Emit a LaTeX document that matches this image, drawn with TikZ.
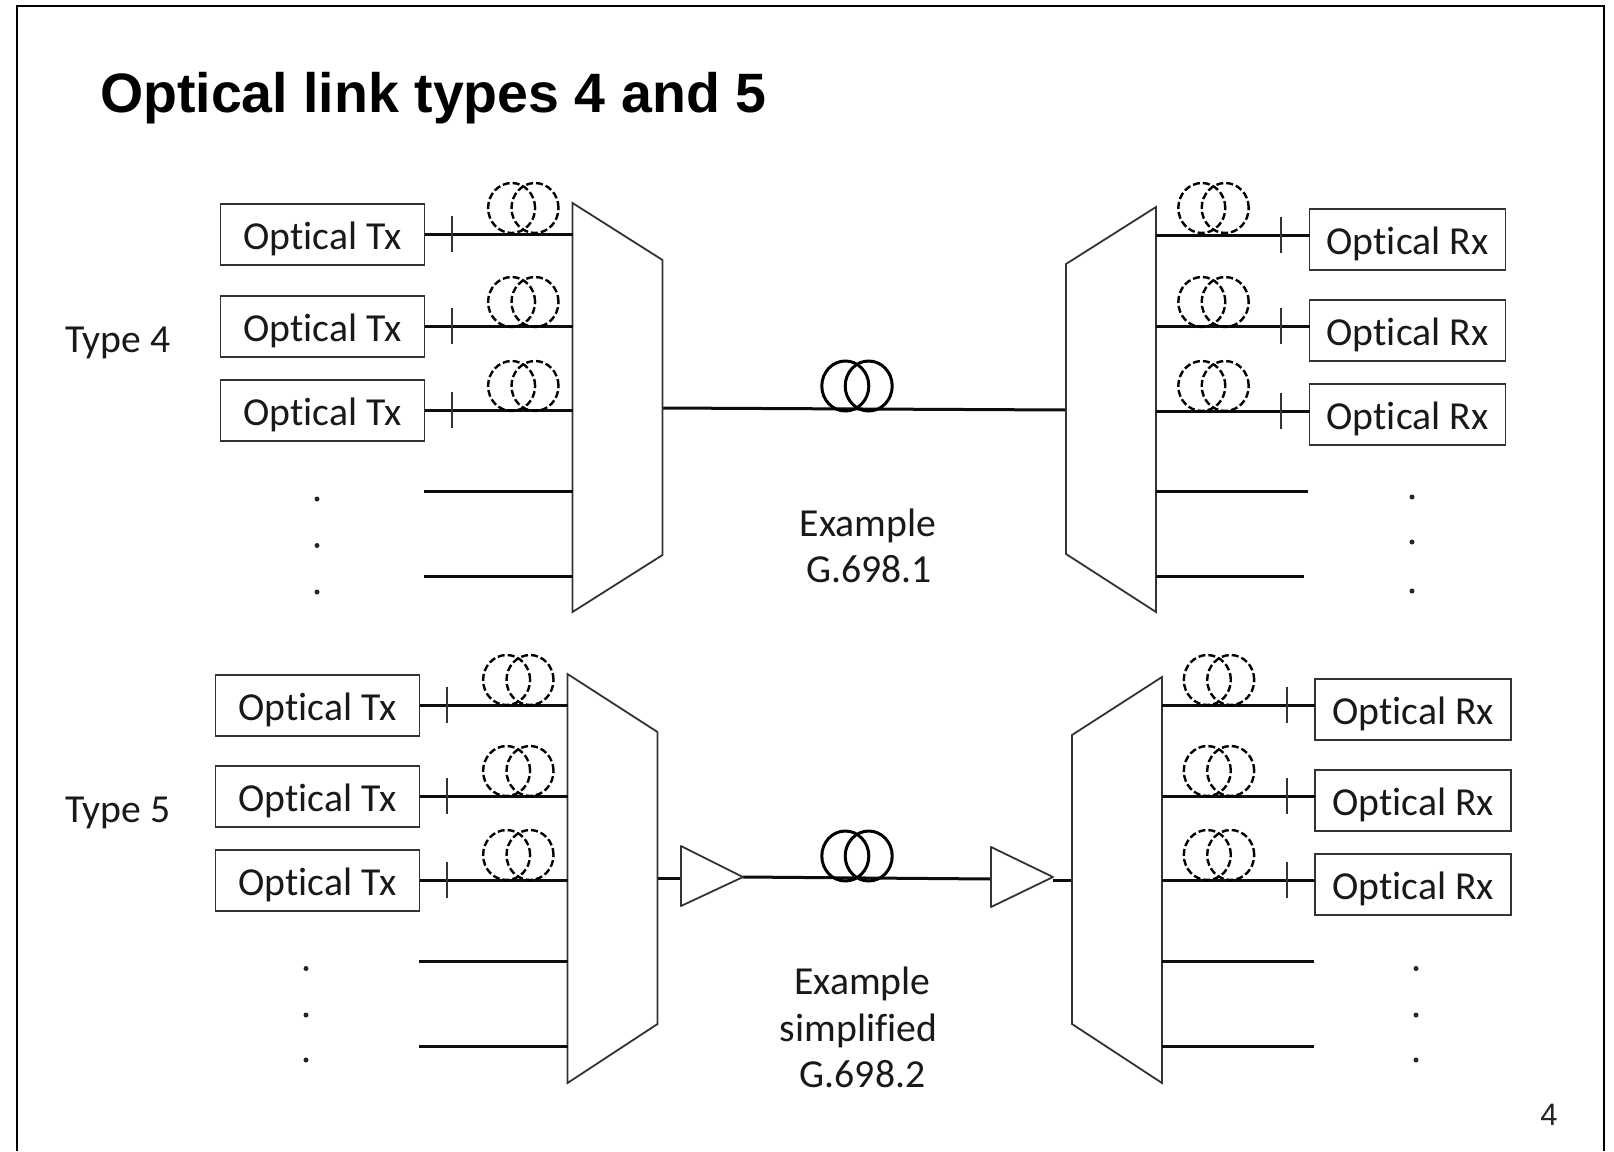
\documentclass[tikz,border=0pt]{standalone}
\usepackage{fontspec}
\setmainfont[Ligatures={NoRequired,NoCommon,NoContextual}]{Carlito}
\newfontfamily\titlefont{Liberation Sans}
\tikzset{
  every node/.style={inner sep=0pt,outer sep=0pt},
  frameline/.style={line width=2.2pt,black},
  thinline/.style={line width=1.8pt,draw=black!80},
  fibre/.style={line width=3pt,black!95},
  portbox/.style={draw=black!80,line width=1.8pt,fill=white,minimum width=204pt,minimum height=61pt,font=\fontsize{39.7}{46}\selectfont,text=black!90,text height=30pt,text depth=0pt},
  rxbox/.style={portbox,minimum width=196pt},
  muxshape/.style={thinline,fill=white},
  ampshape/.style={thinline,fill=white,line join=round},
  label/.style={font=\fontsize{39.7}{46}\selectfont,text=black!90,text height=27pt,text depth=0pt},
  coilsmall/.style={line width=2.4pt,black,dash pattern=on 7pt off 3pt},
  coilbig/.style={line width=3pt,black},
  dotmark/.style={circle,fill=black!85,minimum size=5pt}
}
% \coilpair{style}{centre x}{centre y}{half spacing}{x radius}{y radius}
\newcommand{\coilpair}[6]{%
  \draw[#1] (#2-#4,#3) ellipse [x radius=#5pt,y radius=#6pt];
  \draw[#1] (#2+#4,#3) ellipse [x radius=#5pt,y radius=#6pt];}
% \txrow{name}{box x}{box y}{line y}{tick x}{mux x}{coil x}{coil y}
\newcommand{\txrow}[8]{%
  \node[portbox] (#1) at (#2,#3) {Optical Tx};
  \coordinate (#1p) at (#6,#4);
  \draw[fibre] (#1.east |- #1p) -- (#1p);
  \draw[thinline] (#5,#4-18) -- (#5,#4+18);
  \coilpair{coilsmall}{#7}{#8}{11.7}{23.5}{25}}
\newcommand{\rxrow}[8]{%
  \node[rxbox] (#1) at (#2,#3) {Optical Rx};
  \coordinate (#1p) at (#6,#4);
  \draw[fibre] (#1p) -- (#1.west |- #1p);
  \draw[thinline] (#5,#4-18) -- (#5,#4+18);
  \coilpair{coilsmall}{#7}{#8}{11.7}{23.5}{25}}
\begin{document}
\begin{tikzpicture}[x=1pt,y=-1pt]
\useasboundingbox (0,0) rectangle (1614,1151);
\fill[white] (0,0) rectangle (1614,1151);
\draw[frameline] (17,1151) -- (17,6) -- (1604,6) -- (1604,1151);
\node[anchor=base west,font=\titlefont\bfseries\fontsize{55.5}{64}\selectfont] (title) at (100,112) {Optical link types 4 and 5};

% Type 4
\node[label] (type4) at (118,339) {Type 4};
\coordinate (m4in) at (662,408);
\coordinate (d4in) at (1066,410);
\draw[fibre] (m4in) -- (d4in);
\coilpair{coilbig}{857}{386}{11.7}{23.5}{25}
\draw[muxshape] (572.5,203) -- (662.5,260) -- (662.5,555) -- (572.5,612) -- cycle;
\draw[muxshape] (1156,207) -- (1066,264) -- (1066,554) -- (1156,612) -- cycle;
\txrow{txa}{322.5}{234.5}{234}{452}{572.5}{523.3}{208}
\txrow{txb}{322.5}{326.5}{326}{452}{572.5}{523.3}{302}
\txrow{txc}{322.5}{410.5}{410}{452}{572.5}{523.3}{386}
\rxrow{rxa}{1407.5}{239.5}{235}{1281}{1156}{1213.5}{208}
\rxrow{rxb}{1407.5}{330.5}{326}{1281}{1156}{1213.5}{302}
\rxrow{rxc}{1407.5}{414.5}{411}{1281}{1156}{1213.5}{386}
\coordinate (fa1) at (424,491); \coordinate (fa2) at (572.5,491);
\coordinate (fa3) at (424,576); \coordinate (fa4) at (572.5,576);
\coordinate (fa5) at (1156,491); \coordinate (fa6) at (1308,491);
\coordinate (fa7) at (1156,576); \coordinate (fa8) at (1304,576);
\draw[fibre] (fa1) -- (fa2);
\draw[fibre] (fa3) -- (fa4);
\draw[fibre] (fa5) -- (fa6);
\draw[fibre] (fa7) -- (fa8);
\node[dotmark] (da1) at (317,499) {};
\node[dotmark] (da2) at (317,545.5) {};
\node[dotmark] (da3) at (317,592) {};
\node[dotmark] (da4) at (1412,497) {};
\node[dotmark] (da5) at (1412,542) {};
\node[dotmark] (da6) at (1412,591) {};
\node[label] (ex4a) at (868,523) {Example};
\node[label] (ex4b) at (869,569) {G.698.1};

% Type 5
\node[label] (type5) at (118,809) {Type 5};
\coordinate (m5in) at (657,878);
\coordinate (d5in) at (1072,880);
\coordinate (ampA) at (743,877);
\coordinate (ampB) at (991,879);
\draw[fibre] (m5in) -- (681,878);
\draw[fibre] (ampA) -- (ampB);
\draw[fibre] (1053,880) -- (d5in);
\coilpair{coilbig}{857}{856}{11.7}{23.5}{25}
\draw[ampshape] (681,846) -- (ampA) -- (681,906) -- cycle;
\draw[ampshape] (991,847) -- (1053,877) -- (991,907) -- cycle;
\draw[muxshape] (567.5,674) -- (657.5,732) -- (657.5,1024) -- (567.5,1083) -- cycle;
\draw[muxshape] (1162,677) -- (1072,735) -- (1072,1024) -- (1162,1083) -- cycle;
\txrow{txd}{317.5}{705.5}{705}{447}{567.5}{518.3}{680}
\txrow{txe}{317.5}{796.5}{796}{447}{567.5}{518.3}{771}
\txrow{txf}{317.5}{880.5}{880}{447}{567.5}{518.3}{855}
\rxrow{rxd}{1413}{709.3}{705}{1287}{1162}{1219}{680}
\rxrow{rxe}{1413}{800.5}{796}{1287}{1162}{1219}{771}
\rxrow{rxf}{1413}{884.5}{880}{1287}{1162}{1219}{855}
\coordinate (fb1) at (419,961); \coordinate (fb2) at (567.5,961);
\coordinate (fb3) at (419,1046); \coordinate (fb4) at (567.5,1046);
\coordinate (fb5) at (1162,961); \coordinate (fb6) at (1314,961);
\coordinate (fb7) at (1162,1046); \coordinate (fb8) at (1314,1046);
\draw[fibre] (fb1) -- (fb2);
\draw[fibre] (fb3) -- (fb4);
\draw[fibre] (fb5) -- (fb6);
\draw[fibre] (fb7) -- (fb8);
\node[dotmark] (db1) at (306,968.5) {};
\node[dotmark] (db2) at (306,1015) {};
\node[dotmark] (db3) at (306,1060) {};
\node[dotmark] (db4) at (1416,968.5) {};
\node[dotmark] (db5) at (1416,1015) {};
\node[dotmark] (db6) at (1416,1060) {};
\node[label] (ex5a) at (862.5,981) {Example};
\node[label] (ex5b) at (858.5,1028) {simplified};
\node[label] (ex5c) at (862.5,1074) {G.698.2};

\node[font=\titlefont\fontsize{31}{36}\selectfont,text=black!85] (pageno) at (1549,1115) {4};
\end{tikzpicture}
\end{document}
